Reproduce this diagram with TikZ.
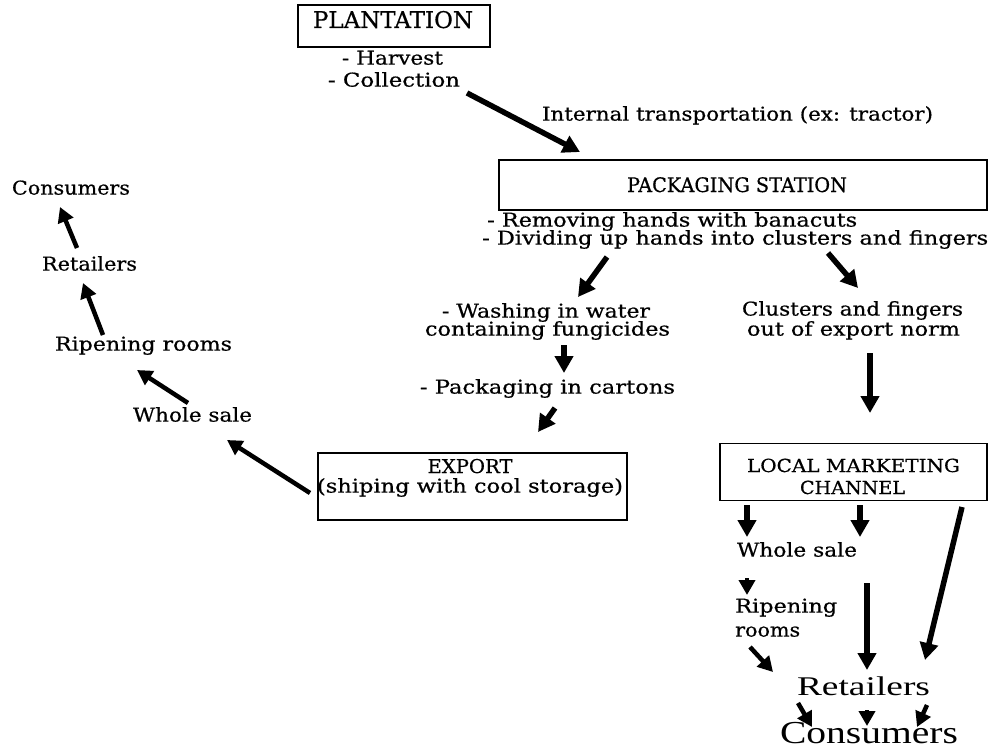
\documentclass[tikz,border=0pt]{standalone}
\usepackage{fontspec}
\setmainfont{DejaVu Serif}[FakeBold=0.6]
\newfontfamily\bigserif{Liberation Serif}
\usetikzlibrary{arrows.meta}
\newcommand\fw[2]{\resizebox{#1pt}{\height}{#2}}
\begin{document}
\begin{tikzpicture}[x=1pt,y=-1pt,
  txt/.style={inner sep=0pt, anchor=mid, font=\fontsize{19}{21}\selectfont},
  ttl/.style={inner sep=0pt, anchor=base},
  box/.style={draw, line width=1.3pt, inner sep=0pt},
  arr/.style={line width=5.5pt, -{Triangle[length=17pt,width=18pt]}},
  sarr/.style={line width=4.5pt, -{Triangle[length=15pt,width=16pt]}}]
\useasboundingbox (0,0) rectangle (992,754);
% boxes
\node[box, minimum width=192pt, minimum height=42pt] (plant) at (394,26) {};
\node[box, minimum width=488pt, minimum height=50pt] (pack) at (743,185) {};
\node[box, minimum width=309pt, minimum height=67pt] (export) at (472.5,486.5) {};
\node[box, minimum width=267pt, minimum height=57pt] (local) at (853.5,472) {};
% titles
\node[ttl, font=\fontsize{23}{25}\selectfont] (plantt) at (393,28) {\fw{160}{PLANTATION}};
\node[ttl, font=\fontsize{20}{22}\selectfont] (packt) at (737,192) {\fw{220}{PACKAGING STATION}};
\node[ttl, font=\fontsize{19}{21}\selectfont] (expt) at (470,473) {\fw{85}{EXPORT}};
\node[txt] (expt2) at (470,490) {\fw{306}{(shiping with cool storage)}};
\node[ttl, font=\fontsize{18}{20}\selectfont] (loct) at (853.5,472) {\fw{213}{LOCAL MARKETING}};
\node[ttl, font=\fontsize{18}{20}\selectfont] (loct2) at (852.5,494) {\fw{105}{CHANNEL}};
% text
\node[txt] (harv) at (392.5,62) {\fw{101}{- Harvest}};
\node[txt] (coll) at (394,84) {\fw{132}{- Collection}};
\node[txt] (intern) at (737.5,118) {\fw{391}{Internal transportation (ex: tractor)}};
\node[txt, anchor=mid west] (remov) at (487,224) {\fw{370}{- Removing hands with banacuts}};
\node[txt, anchor=mid west] (divid) at (482,242) {\fw{506}{- Dividing up hands into clusters and fingers}};
\node[txt] (wash) at (546,315) {\fw{208}{- Washing in water}};
\node[txt] (wash2) at (547.5,333) {\fw{245}{containing fungicides}};
\node[txt] (clus) at (852.5,313) {\fw{221}{Clusters and fingers}};
\node[txt] (clus2) at (853.5,333) {\fw{213}{out of export norm}};
\node[txt] (cart) at (547.5,391) {\fw{255}{- Packaging in cartons}};
% left chain
\node[txt] (lcons) at (71,192) {\fw{118}{Consumers}};
\node[txt] (lret) at (89.5,268) {\fw{95}{Retailers}};
\node[txt] (lrip) at (143.5,348) {\fw{177}{Ripening rooms}};
\node[txt] (lwho) at (192.5,419) {\fw{119}{Whole sale}};
% right chain
\node[txt] (rwho) at (797,554) {\fw{120}{Whole sale}};
\node[txt, anchor=mid west] (rrip) at (735,610) {\fw{102}{Ripening}};
\node[txt, anchor=mid west] (rrip2) at (735,634) {\fw{65}{rooms}};
\node[ttl, font=\bigserif\fontsize{27}{29}\selectfont] (rret) at (863.5,695) {\fw{133}{Retailers}};
\node[ttl, font=\bigserif\fontsize{32}{34}\selectfont] (rcons) at (869,743) {\fw{178}{Consumers}};
% arrow endpoints
\coordinate (a1s) at (467,93);   \coordinate (a1e) at (580,152);
\coordinate (a2s) at (607,257);  \coordinate (a2e) at (578,297);
\coordinate (a3s) at (828,253);  \coordinate (a3e) at (858,288);
\coordinate (a4s) at (564,345);  \coordinate (a4e) at (564,373);
\coordinate (a5s) at (555,408);  \coordinate (a5e) at (538,432);
\coordinate (a6s) at (870,353);  \coordinate (a6e) at (870,413);
\coordinate (a7s) at (310,493);  \coordinate (a7e) at (227,440);
\coordinate (a8s) at (188,403);  \coordinate (a8e) at (137,370);
\coordinate (a9s) at (103,335);  \coordinate (a9e) at (83,283);
\coordinate (a10s) at (77,248);  \coordinate (a10e) at (60,207);
\coordinate (a11s) at (747,505); \coordinate (a11e) at (747,537);
\coordinate (a12s) at (860,505); \coordinate (a12e) at (860,537);
\coordinate (a13s) at (962,507); \coordinate (a13e) at (925,660);
\coordinate (a14s) at (747,578); \coordinate (a14e) at (747,595);
\coordinate (a15s) at (867,583); \coordinate (a15e) at (867,670);
\coordinate (a16s) at (750,647); \coordinate (a16e) at (773,672);
\coordinate (a17s) at (798,703); \coordinate (a17e) at (812,727);
\coordinate (a18s) at (867,710); \coordinate (a18e) at (867,726);
\coordinate (a19s) at (927,705); \coordinate (a19e) at (917,727);
% arrows
\draw[arr] (a1s) -- (a1e);
\draw[arr] (a2s) -- (a2e);
\draw[arr] (a3s) -- (a3e);
\draw[arr] (a4s) -- (a4e);
\draw[arr] (a5s) -- (a5e);
\draw[arr] (a6s) -- (a6e);
\draw[sarr] (a7s) -- (a7e);
\draw[sarr] (a8s) -- (a8e);
\draw[sarr] (a9s) -- (a9e);
\draw[sarr] (a10s) -- (a10e);
\draw[arr] (a11s) -- (a11e);
\draw[arr] (a12s) -- (a12e);
\draw[arr] (a13s) -- (a13e);
\draw[sarr] (a14s) -- (a14e);
\draw[arr] (a15s) -- (a15e);
\draw[sarr] (a16s) -- (a16e);
\draw[sarr] (a17s) -- (a17e);
\draw[sarr] (a18s) -- (a18e);
\draw[sarr] (a19s) -- (a19e);
\end{tikzpicture}
\end{document}
